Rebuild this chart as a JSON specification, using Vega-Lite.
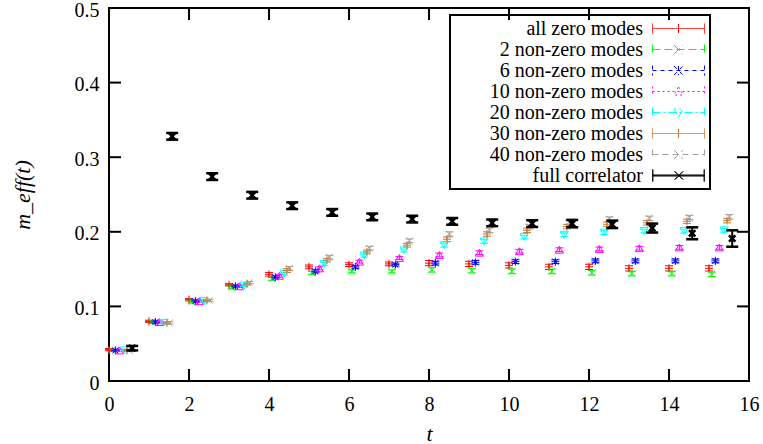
{
  "$schema": "https://vega.github.io/schema/vega-lite/v6.json",
  "width": 640,
  "height": 373,
  "autosize": {"type": "none"},
  "padding": {"left": 109, "top": 8, "right": 14, "bottom": 63},
  "background": "white",
  "config": {
    "view": {"stroke": "black", "strokeWidth": 2},
    "font": "Liberation Serif, serif",
    "legend": {"strokeWidth": 2},
    "axis": {
      "ticks": false, "domain": false, "grid": false,
      "labelFont": "Liberation Serif, serif", "labelFontSize": 20, "labelColor": "black", "labelFlush": false, "labelOverlap": false,
      "titleFont": "Liberation Serif, serif", "titleFontSize": 22, "titleFontWeight": "normal", "titleColor": "black"
    }
  },
  "data": {"values": [
    {"s":"all zero modes","x":0,"y":0.042,"lo":0.0405,"hi":0.0435},
    {"s":"all zero modes","x":1,"y":0.080,"lo":0.0785,"hi":0.0815},
    {"s":"all zero modes","x":2,"y":0.109,"lo":0.1075,"hi":0.1105},
    {"s":"all zero modes","x":3,"y":0.129,"lo":0.1275,"hi":0.1305},
    {"s":"all zero modes","x":4,"y":0.143,"lo":0.1405,"hi":0.1455},
    {"s":"all zero modes","x":5,"y":0.153,"lo":0.1505,"hi":0.1555},
    {"s":"all zero modes","x":6,"y":0.156,"lo":0.1535,"hi":0.1585},
    {"s":"all zero modes","x":7,"y":0.157,"lo":0.1545,"hi":0.1595},
    {"s":"all zero modes","x":8,"y":0.158,"lo":0.1545,"hi":0.1615},
    {"s":"all zero modes","x":9,"y":0.157,"lo":0.1535,"hi":0.1605},
    {"s":"all zero modes","x":10,"y":0.155,"lo":0.1515,"hi":0.1585},
    {"s":"all zero modes","x":11,"y":0.153,"lo":0.1495,"hi":0.1565},
    {"s":"all zero modes","x":12,"y":0.153,"lo":0.1495,"hi":0.1565},
    {"s":"all zero modes","x":13,"y":0.151,"lo":0.1475,"hi":0.1545},
    {"s":"all zero modes","x":14,"y":0.151,"lo":0.1475,"hi":0.1545},
    {"s":"all zero modes","x":15,"y":0.151,"lo":0.1475,"hi":0.1545},

    {"s":"2 non-zero modes","x":0.07,"y":0.041,"lo":0.0395,"hi":0.0425},
    {"s":"2 non-zero modes","x":1.07,"y":0.079,"lo":0.0775,"hi":0.0805},
    {"s":"2 non-zero modes","x":2.07,"y":0.106,"lo":0.1045,"hi":0.1075},
    {"s":"2 non-zero modes","x":3.07,"y":0.125,"lo":0.1235,"hi":0.1265},
    {"s":"2 non-zero modes","x":4.07,"y":0.137,"lo":0.135,"hi":0.139},
    {"s":"2 non-zero modes","x":5.07,"y":0.145,"lo":0.143,"hi":0.147},
    {"s":"2 non-zero modes","x":6.07,"y":0.147,"lo":0.145,"hi":0.149},
    {"s":"2 non-zero modes","x":7.07,"y":0.147,"lo":0.145,"hi":0.149},
    {"s":"2 non-zero modes","x":8.07,"y":0.149,"lo":0.146,"hi":0.152},
    {"s":"2 non-zero modes","x":9.07,"y":0.148,"lo":0.145,"hi":0.151},
    {"s":"2 non-zero modes","x":10.07,"y":0.147,"lo":0.144,"hi":0.150},
    {"s":"2 non-zero modes","x":11.07,"y":0.147,"lo":0.144,"hi":0.150},
    {"s":"2 non-zero modes","x":12.07,"y":0.145,"lo":0.142,"hi":0.148},
    {"s":"2 non-zero modes","x":13.07,"y":0.144,"lo":0.141,"hi":0.147},
    {"s":"2 non-zero modes","x":14.07,"y":0.144,"lo":0.141,"hi":0.147},
    {"s":"2 non-zero modes","x":15.07,"y":0.143,"lo":0.140,"hi":0.146},

    {"s":"6 non-zero modes","x":0.16,"y":0.041,"lo":0.0395,"hi":0.0425},
    {"s":"6 non-zero modes","x":1.16,"y":0.079,"lo":0.0775,"hi":0.0805},
    {"s":"6 non-zero modes","x":2.16,"y":0.107,"lo":0.1055,"hi":0.1085},
    {"s":"6 non-zero modes","x":3.16,"y":0.127,"lo":0.1255,"hi":0.1285},
    {"s":"6 non-zero modes","x":4.16,"y":0.139,"lo":0.137,"hi":0.141},
    {"s":"6 non-zero modes","x":5.16,"y":0.147,"lo":0.145,"hi":0.149},
    {"s":"6 non-zero modes","x":6.16,"y":0.153,"lo":0.151,"hi":0.155},
    {"s":"6 non-zero modes","x":7.16,"y":0.156,"lo":0.154,"hi":0.158},
    {"s":"6 non-zero modes","x":8.16,"y":0.158,"lo":0.1555,"hi":0.1605},
    {"s":"6 non-zero modes","x":9.16,"y":0.159,"lo":0.1565,"hi":0.1615},
    {"s":"6 non-zero modes","x":10.16,"y":0.160,"lo":0.1575,"hi":0.1625},
    {"s":"6 non-zero modes","x":11.16,"y":0.160,"lo":0.1575,"hi":0.1625},
    {"s":"6 non-zero modes","x":12.16,"y":0.161,"lo":0.1585,"hi":0.1635},
    {"s":"6 non-zero modes","x":13.16,"y":0.161,"lo":0.1585,"hi":0.1635},
    {"s":"6 non-zero modes","x":14.16,"y":0.161,"lo":0.1585,"hi":0.1635},
    {"s":"6 non-zero modes","x":15.16,"y":0.161,"lo":0.1585,"hi":0.1635},

    {"s":"10 non-zero modes","x":0.26,"y":0.041,"lo":0.0395,"hi":0.0425},
    {"s":"10 non-zero modes","x":1.26,"y":0.079,"lo":0.0775,"hi":0.0805},
    {"s":"10 non-zero modes","x":2.26,"y":0.107,"lo":0.1055,"hi":0.1085},
    {"s":"10 non-zero modes","x":3.26,"y":0.127,"lo":0.1255,"hi":0.1285},
    {"s":"10 non-zero modes","x":4.26,"y":0.141,"lo":0.139,"hi":0.143},
    {"s":"10 non-zero modes","x":5.26,"y":0.151,"lo":0.149,"hi":0.153},
    {"s":"10 non-zero modes","x":6.26,"y":0.160,"lo":0.158,"hi":0.162},
    {"s":"10 non-zero modes","x":7.26,"y":0.165,"lo":0.163,"hi":0.167},
    {"s":"10 non-zero modes","x":8.26,"y":0.169,"lo":0.1665,"hi":0.1715},
    {"s":"10 non-zero modes","x":9.26,"y":0.172,"lo":0.1695,"hi":0.1745},
    {"s":"10 non-zero modes","x":10.26,"y":0.174,"lo":0.1715,"hi":0.1765},
    {"s":"10 non-zero modes","x":11.26,"y":0.176,"lo":0.1735,"hi":0.1785},
    {"s":"10 non-zero modes","x":12.26,"y":0.177,"lo":0.1745,"hi":0.1795},
    {"s":"10 non-zero modes","x":13.26,"y":0.178,"lo":0.1755,"hi":0.1805},
    {"s":"10 non-zero modes","x":14.26,"y":0.179,"lo":0.1765,"hi":0.1815},
    {"s":"10 non-zero modes","x":15.26,"y":0.179,"lo":0.1765,"hi":0.1815},

    {"s":"20 non-zero modes","x":0.38,"y":0.041,"lo":0.0395,"hi":0.0425},
    {"s":"20 non-zero modes","x":1.38,"y":0.078,"lo":0.0765,"hi":0.0795},
    {"s":"20 non-zero modes","x":2.38,"y":0.107,"lo":0.1055,"hi":0.1085},
    {"s":"20 non-zero modes","x":3.38,"y":0.128,"lo":0.1265,"hi":0.1295},
    {"s":"20 non-zero modes","x":4.38,"y":0.144,"lo":0.142,"hi":0.146},
    {"s":"20 non-zero modes","x":5.38,"y":0.157,"lo":0.155,"hi":0.159},
    {"s":"20 non-zero modes","x":6.38,"y":0.168,"lo":0.166,"hi":0.170},
    {"s":"20 non-zero modes","x":7.38,"y":0.175,"lo":0.173,"hi":0.177},
    {"s":"20 non-zero modes","x":8.38,"y":0.182,"lo":0.1795,"hi":0.1845},
    {"s":"20 non-zero modes","x":9.38,"y":0.187,"lo":0.1845,"hi":0.1895},
    {"s":"20 non-zero modes","x":10.38,"y":0.193,"lo":0.1905,"hi":0.1955},
    {"s":"20 non-zero modes","x":11.38,"y":0.196,"lo":0.1935,"hi":0.1985},
    {"s":"20 non-zero modes","x":12.38,"y":0.199,"lo":0.1965,"hi":0.2015},
    {"s":"20 non-zero modes","x":13.38,"y":0.201,"lo":0.1985,"hi":0.2035},
    {"s":"20 non-zero modes","x":14.38,"y":0.201,"lo":0.1985,"hi":0.2035},
    {"s":"20 non-zero modes","x":15.38,"y":0.202,"lo":0.1995,"hi":0.2045},

    {"s":"30 non-zero modes","x":0.45,"y":0.041,"lo":0.0395,"hi":0.0425},
    {"s":"30 non-zero modes","x":1.45,"y":0.078,"lo":0.0765,"hi":0.0795},
    {"s":"30 non-zero modes","x":2.45,"y":0.108,"lo":0.1065,"hi":0.1095},
    {"s":"30 non-zero modes","x":3.45,"y":0.130,"lo":0.1285,"hi":0.1315},
    {"s":"30 non-zero modes","x":4.45,"y":0.148,"lo":0.1455,"hi":0.1505},
    {"s":"30 non-zero modes","x":5.45,"y":0.162,"lo":0.1595,"hi":0.1645},
    {"s":"30 non-zero modes","x":6.45,"y":0.173,"lo":0.1705,"hi":0.1755},
    {"s":"30 non-zero modes","x":7.45,"y":0.182,"lo":0.1795,"hi":0.1845},
    {"s":"30 non-zero modes","x":8.45,"y":0.190,"lo":0.187,"hi":0.193},
    {"s":"30 non-zero modes","x":9.45,"y":0.197,"lo":0.194,"hi":0.200},
    {"s":"30 non-zero modes","x":10.45,"y":0.202,"lo":0.199,"hi":0.205},
    {"s":"30 non-zero modes","x":11.45,"y":0.207,"lo":0.204,"hi":0.210},
    {"s":"30 non-zero modes","x":12.45,"y":0.210,"lo":0.207,"hi":0.213},
    {"s":"30 non-zero modes","x":13.45,"y":0.212,"lo":0.209,"hi":0.215},
    {"s":"30 non-zero modes","x":14.45,"y":0.214,"lo":0.211,"hi":0.217},
    {"s":"30 non-zero modes","x":15.45,"y":0.215,"lo":0.212,"hi":0.218},

    {"s":"40 non-zero modes","x":0.51,"y":0.041,"lo":0.0395,"hi":0.0425},
    {"s":"40 non-zero modes","x":1.51,"y":0.078,"lo":0.0765,"hi":0.0795},
    {"s":"40 non-zero modes","x":2.51,"y":0.108,"lo":0.1065,"hi":0.1095},
    {"s":"40 non-zero modes","x":3.51,"y":0.132,"lo":0.1305,"hi":0.1335},
    {"s":"40 non-zero modes","x":4.51,"y":0.151,"lo":0.1485,"hi":0.1535},
    {"s":"40 non-zero modes","x":5.51,"y":0.166,"lo":0.1635,"hi":0.1685},
    {"s":"40 non-zero modes","x":6.51,"y":0.178,"lo":0.1755,"hi":0.1805},
    {"s":"40 non-zero modes","x":7.51,"y":0.188,"lo":0.1855,"hi":0.1905},
    {"s":"40 non-zero modes","x":8.51,"y":0.197,"lo":0.194,"hi":0.200},
    {"s":"40 non-zero modes","x":9.51,"y":0.202,"lo":0.199,"hi":0.205},
    {"s":"40 non-zero modes","x":10.51,"y":0.207,"lo":0.204,"hi":0.210},
    {"s":"40 non-zero modes","x":11.51,"y":0.212,"lo":0.209,"hi":0.215},
    {"s":"40 non-zero modes","x":12.51,"y":0.217,"lo":0.214,"hi":0.220},
    {"s":"40 non-zero modes","x":13.51,"y":0.218,"lo":0.215,"hi":0.221},
    {"s":"40 non-zero modes","x":14.51,"y":0.219,"lo":0.216,"hi":0.222},
    {"s":"40 non-zero modes","x":15.51,"y":0.220,"lo":0.217,"hi":0.223},

    {"s":"full correlator","x":0.58,"y":0.044,"lo":0.041,"hi":0.047},
    {"s":"full correlator","x":1.58,"y":0.328,"lo":0.3235,"hi":0.3325},
    {"s":"full correlator","x":2.58,"y":0.274,"lo":0.2695,"hi":0.2785},
    {"s":"full correlator","x":3.58,"y":0.249,"lo":0.2445,"hi":0.2535},
    {"s":"full correlator","x":4.58,"y":0.235,"lo":0.2305,"hi":0.2395},
    {"s":"full correlator","x":5.58,"y":0.226,"lo":0.2215,"hi":0.2305},
    {"s":"full correlator","x":6.58,"y":0.220,"lo":0.2155,"hi":0.2245},
    {"s":"full correlator","x":7.58,"y":0.217,"lo":0.2125,"hi":0.2215},
    {"s":"full correlator","x":8.58,"y":0.214,"lo":0.2095,"hi":0.2185},
    {"s":"full correlator","x":9.58,"y":0.212,"lo":0.2075,"hi":0.2165},
    {"s":"full correlator","x":10.58,"y":0.211,"lo":0.2065,"hi":0.2155},
    {"s":"full correlator","x":11.58,"y":0.211,"lo":0.206,"hi":0.216},
    {"s":"full correlator","x":12.58,"y":0.210,"lo":0.205,"hi":0.215},
    {"s":"full correlator","x":13.58,"y":0.205,"lo":0.199,"hi":0.211},
    {"s":"full correlator","x":14.58,"y":0.198,"lo":0.190,"hi":0.206},
    {"s":"full correlator","x":15.58,"y":0.191,"lo":0.180,"hi":0.202}
  ]},
  "resolve": {
    "scale": {"shape": "independent"},
    "legend": {"color": "independent", "shape": "independent", "strokeDash": "independent"}
  },
  "layer": [
    {
      "transform": [{"filter": "datum.x < -1"}],
      "mark": {"type": "point", "filled": false, "opacity": 1, "size": 400, "strokeWidth": 1},
      "encoding": {
        "x": {"field": "x", "type": "quantitative", "scale": {"domain": [0, 16], "nice": false, "zero": false},
          "axis": {"orient": "bottom", "values": [0,2,4,6,8,10,12,14,16], "format": "~g", "labelPadding": 13, "title": "t", "titleFontStyle": "italic", "titlePadding": 9}},
        "y": {"field": "y", "type": "quantitative", "scale": {"domain": [0, 0.5], "nice": false, "zero": false},
          "axis": {"orient": "left", "values": [0,0.1,0.2,0.3,0.4,0.5], "format": "~g", "labelPadding": 10, "labelOffset": 2, "title": "m_eff(t)", "titleFontStyle": "italic", "titlePadding": 40}},
        "color": {"field": "s", "type": "nominal",
          "scale": {"domain": ["all zero modes","2 non-zero modes","6 non-zero modes","10 non-zero modes","20 non-zero modes","30 non-zero modes","40 non-zero modes","full correlator"],
                    "range": ["#ff0000","#00ff00","#0000ff","#ff00ff","#00ffff","#cc7730","#a0a0a0","#000000"]},
          "legend": {
            "title": null, "orient": "none", "legendX": 341, "legendY": 7, "padding": 3,
            "strokeColor": "black",
            "labelFont": "Liberation Serif, serif", "labelFontSize": 20, "labelColor": "black", "labelAlign": "right", "labelLimit": 400,
            "labelOffset": -46, "symbolOffset": 215, "symbolSize": 400, "symbolStrokeWidth": 1, "symbolOpacity": 1, "rowPadding": 0
          }},
        "shape": {"field": "s", "type": "nominal",
          "scale": {"domain": ["all zero modes","2 non-zero modes","6 non-zero modes","10 non-zero modes","20 non-zero modes","30 non-zero modes","40 non-zero modes","full correlator"],
                    "range": [
                      "M-2.6,0H2.6M-2.6,-0.5V0.5M2.6,-0.5V0.5M0,-0.45V0.45",
                      "M-2.6,0H2.6M-2.6,-0.5V0.5M2.6,-0.5V0.5M-0.45,-0.45L0.45,0.45M-0.45,0.45L0.45,-0.45",
                      "M-2.6,0H2.6M-2.6,-0.5V0.5M2.6,-0.5V0.5M0,-0.45V0.45M-0.45,-0.45L0.45,0.45M-0.45,0.45L0.45,-0.45",
                      "M-2.6,0H2.6M-2.6,-0.5V0.5M2.6,-0.5V0.5M0,-0.45L0.45,0.35L-0.45,0.35Z",
                      "M-2.6,0H2.6M-2.6,-0.5V0.5M2.6,-0.5V0.5M0,0.45L0.45,-0.35L-0.45,-0.35Z",
                      "M-2.6,0H2.6M-2.6,-0.5V0.5M2.6,-0.5V0.5M0,-0.45V0.45",
                      "M-2.6,0H2.6M-2.6,-0.5V0.5M2.6,-0.5V0.5M-0.45,-0.45L0.45,0.45M-0.45,0.45L0.45,-0.45",
                      "M-2.6,0H2.6M-2.6,0.06H2.6M-2.6,-0.06H2.6M-2.6,-0.6V0.6M-2.55,-0.6V0.6M2.6,-0.6V0.6M2.55,-0.6V0.6M-0.4,-0.4L0.4,0.4M-0.4,0.4L0.4,-0.4M-0.33,-0.4L0.47,0.4M-0.33,0.4L0.47,-0.4"
                    ]}},
        "strokeDash": {"field": "s", "type": "nominal",
          "scale": {"domain": ["all zero modes","2 non-zero modes","6 non-zero modes","10 non-zero modes","20 non-zero modes","30 non-zero modes","40 non-zero modes","full correlator"],
                    "range": [[1,0],[8,4],[4,4],[2,3],[8,3,2,3],[1,0],[6,4],[1,0]]}}
      }
    },
    {
      "data": {"values": [{"v":0},{"v":2},{"v":4},{"v":6},{"v":8},{"v":10},{"v":12},{"v":14},{"v":16}]},
      "mark": {"type": "rule", "strokeWidth": 2, "color": "black"},
      "encoding": {
        "x": {"field": "v", "type": "quantitative"},
        "y": {"datum": 0},
        "y2": {"datum": 0.0161}
      }
    },
    {
      "data": {"values": [{"v":0},{"v":2},{"v":4},{"v":6},{"v":8},{"v":10},{"v":12},{"v":14},{"v":16}]},
      "mark": {"type": "rule", "strokeWidth": 2, "color": "black"},
      "encoding": {
        "x": {"field": "v", "type": "quantitative"},
        "y": {"datum": 0.4839},
        "y2": {"datum": 0.5}
      }
    },
    {
      "data": {"values": [{"v":0},{"v":0.1},{"v":0.2},{"v":0.3},{"v":0.4},{"v":0.5}]},
      "mark": {"type": "rule", "strokeWidth": 2, "color": "black"},
      "encoding": {
        "y": {"field": "v", "type": "quantitative"},
        "x": {"datum": 0},
        "x2": {"datum": 0.3}
      }
    },
    {
      "data": {"values": [{"v":0},{"v":0.1},{"v":0.2},{"v":0.3},{"v":0.4},{"v":0.5}]},
      "mark": {"type": "rule", "strokeWidth": 2, "color": "black"},
      "encoding": {
        "y": {"field": "v", "type": "quantitative"},
        "x": {"datum": 15.7},
        "x2": {"datum": 16}
      }
    },
    {
      "transform": [{"filter": "datum.s !== 'full correlator'"}],
      "mark": {"type": "rule", "strokeWidth": 1},
      "encoding": {
        "x": {"field": "x", "type": "quantitative"},
        "y": {"field": "lo", "type": "quantitative"},
        "y2": {"field": "hi"},
        "color": {"field": "s", "type": "nominal", "legend": null}
      }
    },
    {
      "transform": [{"filter": "datum.s !== 'full correlator'"}],
      "mark": {"type": "tick", "orient": "horizontal", "size": 8, "thickness": 1, "opacity": 1},
      "encoding": {
        "x": {"field": "x", "type": "quantitative"},
        "y": {"field": "lo", "type": "quantitative"},
        "color": {"field": "s", "type": "nominal", "legend": null}
      }
    },
    {
      "transform": [{"filter": "datum.s !== 'full correlator'"}],
      "mark": {"type": "tick", "orient": "horizontal", "size": 8, "thickness": 1, "opacity": 1},
      "encoding": {
        "x": {"field": "x", "type": "quantitative"},
        "y": {"field": "hi", "type": "quantitative"},
        "color": {"field": "s", "type": "nominal", "legend": null}
      }
    },
    {
      "transform": [{"filter": "datum.s !== 'full correlator'"}],
      "mark": {"type": "point", "filled": false, "opacity": 1, "size": 64, "strokeWidth": 1},
      "encoding": {
        "x": {"field": "x", "type": "quantitative"},
        "y": {"field": "y", "type": "quantitative"},
        "color": {"field": "s", "type": "nominal", "legend": null},
        "shape": {"field": "s", "type": "nominal", "legend": null,
          "scale": {"domain": ["all zero modes","2 non-zero modes","6 non-zero modes","10 non-zero modes","20 non-zero modes","30 non-zero modes","40 non-zero modes","full correlator"],
                    "range": ["M-1,0H1M0,-1V1","M-0.8,-0.8L0.8,0.8M-0.8,0.8L0.8,-0.8","M-1,0H1M0,-1V1M-0.75,-0.75L0.75,0.75M-0.75,0.75L0.75,-0.75","triangle-up","triangle-down","M-1,0H1M0,-1V1","M-0.8,-0.8L0.8,0.8M-0.8,0.8L0.8,-0.8","M-0.8,-0.8L0.8,0.8M-0.8,0.8L0.8,-0.8"]}}
      }
    },
    {
      "transform": [{"filter": "datum.s === 'full correlator'"}],
      "mark": {"type": "rule", "strokeWidth": 2, "color": "black"},
      "encoding": {
        "x": {"field": "x", "type": "quantitative"},
        "y": {"field": "lo", "type": "quantitative"},
        "y2": {"field": "hi"}
      }
    },
    {
      "transform": [{"filter": "datum.s === 'full correlator'"}],
      "mark": {"type": "tick", "orient": "horizontal", "size": 12, "thickness": 2.5, "opacity": 1, "color": "black"},
      "encoding": {
        "x": {"field": "x", "type": "quantitative"},
        "y": {"field": "lo", "type": "quantitative"}
      }
    },
    {
      "transform": [{"filter": "datum.s === 'full correlator'"}],
      "mark": {"type": "tick", "orient": "horizontal", "size": 12, "thickness": 2.5, "opacity": 1, "color": "black"},
      "encoding": {
        "x": {"field": "x", "type": "quantitative"},
        "y": {"field": "hi", "type": "quantitative"}
      }
    },
    {
      "transform": [{"filter": "datum.s === 'full correlator'"}],
      "mark": {"type": "point", "shape": "M-0.8,-0.8L0.8,0.8M-0.8,0.8L0.8,-0.8", "filled": false, "opacity": 1, "size": 64, "strokeWidth": 2.5, "color": "black"},
      "encoding": {
        "x": {"field": "x", "type": "quantitative"},
        "y": {"field": "y", "type": "quantitative"}
      }
    }
  ]
}
